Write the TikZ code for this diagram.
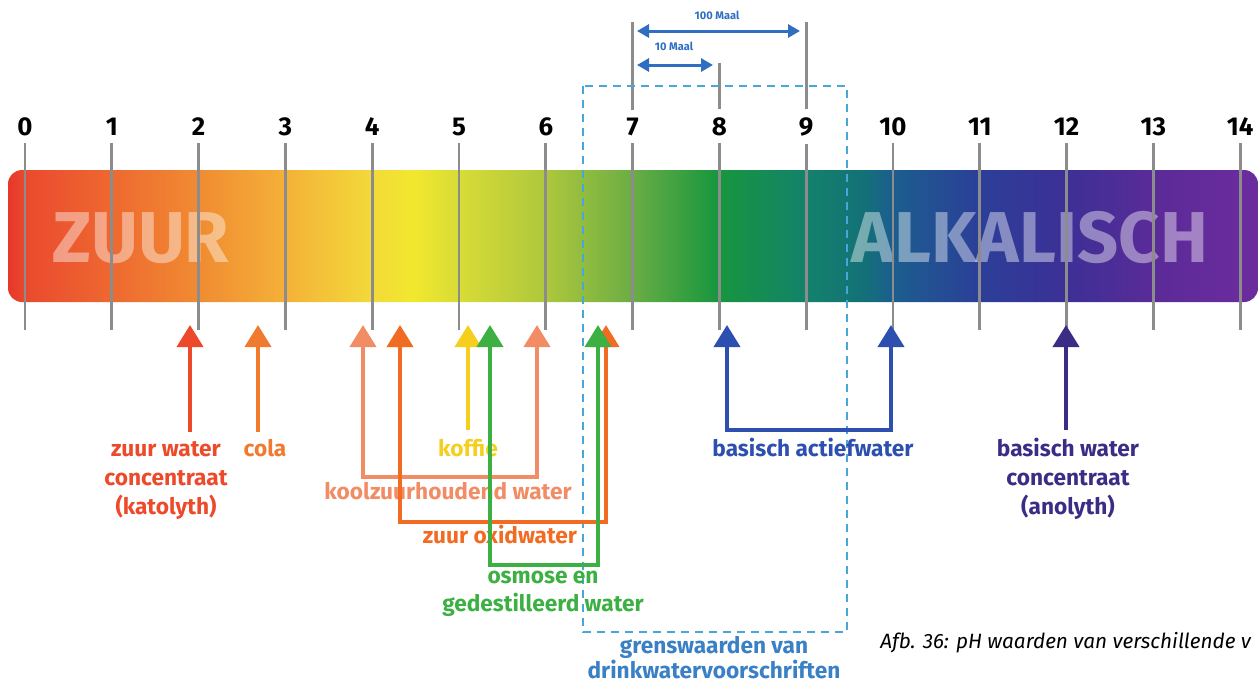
\documentclass[tikz,border=0pt]{standalone}
\usepackage{fontspec}
\setmainfont{Fira Sans}
\usetikzlibrary{arrows.meta,positioning}

% kleuren van de balk
\definecolor{phrand}{HTML}{E8362B}
\definecolor{ph0}{HTML}{EA4A2E}
\definecolor{ph1}{HTML}{EE6830}
\definecolor{ph2}{HTML}{F08A32}
\definecolor{ph3}{HTML}{F4B038}
\definecolor{ph4}{HTML}{F3D93A}
\definecolor{ph45}{HTML}{F2E82E}
\definecolor{ph5}{HTML}{D8DC36}
\definecolor{ph6}{HTML}{B0C83C}
\definecolor{ph7}{HTML}{6CAE44}
\definecolor{ph8}{HTML}{17963E}
\definecolor{ph9}{HTML}{13826A}
\definecolor{ph97}{HTML}{137078}
\definecolor{ph10}{HTML}{1B5F8E}
\definecolor{ph11}{HTML}{2B3F98}
\definecolor{ph12}{HTML}{3C3096}
\definecolor{ph13}{HTML}{5A2B98}
\definecolor{ph14}{HTML}{6A2B9D}
% kleuren van de pijlen
\definecolor{tickgrijs}{HTML}{8C8C8C}
\definecolor{czw}{HTML}{EC4A2A}
\definecolor{ccola}{HTML}{F07A2E}
\definecolor{ckz}{HTML}{F28C64}
\definecolor{cox}{HTML}{F26B22}
\definecolor{ckof}{HTML}{F5CE1E}
\definecolor{cosm}{HTML}{3CB043}
\definecolor{cba}{HTML}{2D4FB0}
\definecolor{cbc}{HTML}{3B2C85}
\definecolor{cgrens}{HTML}{3A80C5}
\definecolor{cdash}{HTML}{49A6DA}
\definecolor{cmaal}{HTML}{2F6EC0}

\pgfdeclarehorizontalshading{phbalk}{100bp}{%
  color(0bp)=(phrand); color(25bp)=(phrand); color(25.7bp)=(ph0);
  color(29.1bp)=(ph1); color(32.5bp)=(ph2); color(36bp)=(ph3);
  color(39.5bp)=(ph4); color(41.2bp)=(ph45); color(43bp)=(ph5);
  color(46.4bp)=(ph6); color(49.9bp)=(ph7); color(53.4bp)=(ph8);
  color(56.9bp)=(ph9); color(59.3bp)=(ph97); color(60.3bp)=(ph10);
  color(63.8bp)=(ph11); color(67.3bp)=(ph12); color(70.8bp)=(ph13);
  color(74.3bp)=(ph14); color(100bp)=(ph14)}

\tikzset{
  phtick/.style={draw=tickgrijs, line width=0.055cm},
  phnum/.style={font=\fontsize{14.7}{16}\selectfont\bfseries, anchor=base, inner sep=0.15cm},
  phtekst/.style={font=\fontsize{12.9}{16.4}\selectfont\bfseries, align=center, anchor=base, inner sep=0pt},
  grotetekst/.style={font=\fontsize{41}{44}\selectfont\bfseries, text=white, text opacity=0.42, anchor=base, inner sep=0pt},
  pijl/.style={line width=0.08cm, -{Triangle[width=0.52cm,length=0.44cm]}},
  duopijl/.style={line width=0.08cm, {Triangle[width=0.52cm,length=0.44cm]}-{Triangle[width=0.52cm,length=0.44cm]}},
  maalpijl/.style={draw=cmaal, line width=0.06cm, {Triangle[width=0.26cm,length=0.24cm]}-{Triangle[width=0.26cm,length=0.24cm]}},
  maaltekst/.style={font=\fontsize{6.3}{7}\selectfont\bfseries, text=cmaal, inner sep=0pt},
  grensbox/.style={draw=cdash, line width=0.04cm, dash pattern=on 0.16cm off 0.12cm},
}

\begin{document}
\begin{tikzpicture}[x=0.02cm, y=-0.02cm]
\useasboundingbox (0,0) rectangle (1259,684);

% de balk
\shade[shading=phbalk, rounded corners=0.28cm] (8,170) rectangle (1258,302);
\node[grotetekst] (zuur) at (141,262) {ZUUR};
\node[grotetekst] (alk) at (1030,262) {ALKALISCH};

% schaal
\foreach \i in {0,...,14} {
  \pgfmathsetmacro{\xx}{25+86.8*\i}
  \node[phnum] (n\i) at (\xx,135) {\i};
  \coordinate (t\i) at (\xx,330);
  \draw[phtick] (n\i.south) -- (t\i);
}
\coordinate (top7) at (n7.north |- 0,22);
\coordinate (top8) at (n8.north |- 0,63);
\coordinate (top9) at (n9.north |- 0,22);
\draw[phtick] (n7.north) -- (top7);
\draw[phtick] (n8.north) -- (top8);
\draw[phtick] (n9.north) -- (top9);

% 10 en 100 maal
\coordinate (m100a) at (637,31);
\coordinate (m100b) at (800,31);
\coordinate (m10a) at (637,65);
\coordinate (m10b) at (713,65);
\draw[maalpijl] (m100a) -- (m100b);
\draw[maalpijl] (m10a) -- (m10b);
\node[maaltekst] (maal100) at (717,15) {100 Maal};
\node[maaltekst] (maal10) at (674,46) {10 Maal};

% grenswaarden
\draw[grensbox] (583,86) rectangle (847,632);
\node[phtekst, text=cgrens, font=\fontsize{12.9}{14.2}\selectfont\bfseries] (grens) at (714,678)
  {grenswaarden van\\drinkwatervoorschriften};

% teksten
\node[phtekst, text=czw] (zw) at (166,514) {zuur water\\concentraat\\(katolyth)};
\node[phtekst, text=ccola] (cola) at (265,456) {cola};
\node[phtekst, text=ckof] (koffie) at (468,456) {koffie};
\node[phtekst, text=ckz] (kz) at (448,499) {koolzuurhoudend water};
\node[phtekst, text=cox] (ox) at (500,543) {zuur oxidwater};
\node[phtekst, text=cosm, font=\fontsize{12.9}{15.8}\selectfont\bfseries] (osm) at (543,611) {osmose en\\gedestilleerd water};
\node[phtekst, text=cba] (ba) at (813,456) {basisch actiefwater};
\node[phtekst, text=cbc] (bc) at (1068,514) {basisch water\\concentraat\\(anolyth)};

% pijlen
\coordinate (zwtip) at (190,325);
\coordinate (zwvoet) at (190,432);
\coordinate (colatip) at (258,325);
\coordinate (colavoet) at (258,432);
\coordinate (koftip) at (468,325);
\coordinate (kofvoet) at (468,430);
\coordinate (bctip) at (1066,325);
\coordinate (bcvoet) at (1066,430);
\coordinate (kzL) at (363,325);
\coordinate (kzR) at (537,325);
\coordinate (oxL) at (400,325);
\coordinate (oxR) at (606,325);
\coordinate (osL) at (490,325);
\coordinate (osR) at (598,325);
\coordinate (baL) at (727,325);
\coordinate (baR) at (891,325);

\draw[pijl, czw] (zwvoet) -- (zwtip);
\draw[pijl, ccola] (colavoet) -- (colatip);
\draw[duopijl, ckz] (kzL) -- ++(0,152) -| (kzR);
\draw[duopijl, cox] (oxL) -- ++(0,197) -| (oxR);
\draw[pijl, ckof] (kofvoet) -- (koftip);
\draw[duopijl, cosm] (osL) -- ++(0,240) -| (osR);
\draw[duopijl, cba] (baL) -- ++(0,105) -| (baR);
\draw[pijl, cbc] (bcvoet) -- (bctip);

% onderschrift
\node[anchor=base west, inner sep=0pt, font=\fontsize{11.8}{13}\selectfont\itshape] (afb) at (880,648)
  {Afb. 36: pH waarden van verschillende v};
\end{tikzpicture}
\end{document}
